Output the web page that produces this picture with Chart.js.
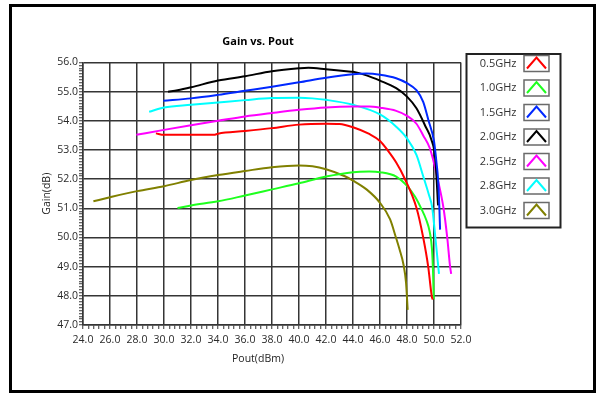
<!DOCTYPE html>
<html>
<head>
<meta charset="utf-8">
<script src="https://cdn.jsdelivr.net/npm/chart.js@4/dist/chart.umd.min.js"></script>
<style>
  html, body { margin: 0; padding: 0; background: #fff; }
  #wrap { width: 602px; height: 396px; }
</style>
</head>
<body>
<div id="wrap"><canvas id="c" width="602" height="396"></canvas></div>
<script>
// Series names (test frequency)
const freqLabels = ['0.5GHz', '1.0GHz', '1.5GHz', '2.0GHz', '2.5GHz', '2.8GHz', '3.0GHz'];
const seriesColors = ['#ff0000', '#1eff1e', '#0028ff', '#000000', '#ff00ff', '#00ffff', '#808000'];

// Output power (dBm) and gain (dB) for each frequency
const pout05 = [29.4, 30, 32, 33.7, 34, 36, 38, 40, 42, 43, 44, 45.2, 46, 46.6, 47.2, 47.8, 48.7, 49.2, 49.57, 49.83, 49.9];
const gain05 = [53.57, 53.52, 53.52, 53.52, 53.56, 53.65, 53.75, 53.87, 53.9, 53.89, 53.78, 53.55, 53.31, 52.97, 52.57, 52.05, 51.02, 50.0, 49.0, 48.0, 47.87];

const pout10 = [31.0, 32, 34, 36, 38, 40, 42, 44, 45.2, 46, 47.2, 48.0, 48.6, 49.05, 49.43, 49.68, 49.85, 49.93, 49.98];
const gain10 = [51.01, 51.1, 51.24, 51.44, 51.65, 51.86, 52.09, 52.24, 52.26, 52.24, 52.09, 51.77, 51.4, 51.0, 50.6, 50.2, 49.6, 48.8, 47.88];

const pout15 = [29.95, 32, 34, 36, 38, 40, 42, 44, 45, 46, 47.2, 48, 48.7, 49.2, 49.6, 50.0, 50.2, 50.3, 50.4, 50.45];
const gain15 = [54.69, 54.77, 54.89, 55.03, 55.17, 55.32, 55.48, 55.6, 55.62, 55.58, 55.46, 55.29, 55.05, 54.65, 54.0, 53.3, 52.5, 52.0, 51.0, 50.27];

const pout20 = [30.3, 31, 32, 34, 36, 38, 40, 40.7, 42, 43.5, 44, 45, 46, 47.2, 48, 48.7, 49.4, 49.8, 50.1, 50.3];
const gain20 = [55.0, 55.05, 55.15, 55.38, 55.53, 55.7, 55.8, 55.82, 55.77, 55.7, 55.68, 55.56, 55.38, 55.12, 54.83, 54.43, 53.78, 53.36, 52.68, 51.1];

const pout25 = [27.95, 30, 32, 34, 36, 38, 40, 42, 44, 45.2, 46, 47.2, 48, 48.7, 49.2, 49.7, 50.25, 50.7, 50.98, 51.18, 51.27];
const gain25 = [53.52, 53.69, 53.85, 54.0, 54.15, 54.27, 54.38, 54.46, 54.49, 54.49, 54.45, 54.34, 54.17, 53.9, 53.5, 53.05, 52.05, 51.02, 50.0, 49.05, 48.75];

const pout28 = [28.9, 30, 32, 34, 36, 38, 40, 41, 42, 44, 46, 47.2, 48, 48.7, 49.2, 49.6, 49.87, 50.1, 50.37];
const gain28 = [54.31, 54.46, 54.55, 54.63, 54.71, 54.78, 54.79, 54.77, 54.72, 54.55, 54.22, 53.8, 53.4, 52.83, 52.1, 51.5, 51.02, 50.0, 48.75];

const pout30 = [24.77, 26, 28, 30, 32, 34, 36, 38, 40, 41, 42, 43.4, 44, 45, 46, 46.75, 47.18, 47.43, 47.75, 47.93, 48.05];
const gain30 = [51.24, 51.38, 51.59, 51.76, 51.97, 52.14, 52.28, 52.41, 52.47, 52.44, 52.34, 52.1, 51.95, 51.65, 51.19, 50.62, 50.0, 49.62, 49.05, 48.44, 47.52];

const poutSets = [pout05, pout10, pout15, pout20, pout25, pout28, pout30];
const gainSets = [gain05, gain10, gain15, gain20, gain25, gain28, gain30];

// Axis ranges and tick spacing
const xMin = 24, xMax = 52, xMajor = 2, xMinor = 0.4;
const yMin = 47, yMax = 56, yMajor = 1, yMinor = 0.1;

const chartTitle = 'Gain vs. Pout';
const xTitle = 'Pout(dBm)';
const yTitle = 'Gain(dB)';

const isMajor = (v, step, base) => {
  const q = (v - base) / step;
  return Math.abs(q - Math.round(q)) < 1e-6;
};

const FONT = "'Open Sans', 'DejaVu Sans', sans-serif";
const GRID = '#353535';

const datasets = freqLabels.map((lab, i) => ({
  label: lab,
  data: poutSets[i].map((p, k) => ({ x: p, y: gainSets[i][k] })),
  borderColor: seriesColors[i],
  backgroundColor: seriesColors[i],
  borderWidth: 2,
  pointRadius: 0,
  fill: false,
  cubicInterpolationMode: 'monotone'
}));

// White page, black outer frame, chart title and x axis title
const framePlugin = {
  id: 'frame',
  beforeDraw(chart) {
    const c = chart.ctx;
    c.save();
    c.fillStyle = '#fff';
    c.fillRect(0, 0, chart.width, chart.height);
    c.restore();
  },
  afterDraw(chart) {
    const c = chart.ctx;
    const a = chart.chartArea;
    c.save();
    c.strokeStyle = '#000';
    c.lineWidth = 3;
    c.strokeRect(10.5, 5.5, 584, 386);

    const midX = a.left + (a.right - a.left) * 0.463;
    c.textAlign = 'center';
    c.textBaseline = 'middle';
    c.fillStyle = '#000';
    c.font = 'bold 11px ' + FONT;
    c.fillText(chartTitle, midX, a.top - 20.5);
    c.fillStyle = '#222';
    c.font = '10.5px ' + FONT;
    c.fillText(xTitle, midX, a.bottom + 34);
    c.restore();
  }
};

// Boxed legend: label on the left, caret icon on the right
const boxLegend = {
  id: 'boxLegend',
  afterDraw(chart) {
    const c = chart.ctx;
    const area = chart.chartArea;
    const left = area.right + 5.5;
    const top = 54;
    const w = 94, rowH = 24.5;
    const n = chart.data.datasets.length;
    const h = n * rowH + 2;
    c.save();
    c.fillStyle = '#fff';
    c.fillRect(left, top, w, h);
    c.strokeStyle = '#222';
    c.lineWidth = 2;
    c.strokeRect(left, top, w, h);
    chart.data.datasets.forEach((ds, i) => {
      const cy = top + 9.5 + i * rowH;
      c.font = '11px ' + FONT;
      c.fillStyle = '#333';
      c.textAlign = 'right';
      c.textBaseline = 'middle';
      c.fillText(ds.label, left + 50, cy);
      const bx = left + 57.5, bw = 25, bh = 16;
      c.fillStyle = '#fff';
      c.fillRect(bx, cy - bh / 2, bw, bh);
      c.strokeStyle = '#6a6a6a';
      c.lineWidth = 1.5;
      c.strokeRect(bx, cy - bh / 2, bw, bh);
      c.strokeStyle = ds.borderColor;
      c.lineWidth = 2;
      c.beginPath();
      c.moveTo(bx + 3, cy + 5);
      c.lineTo(bx + bw / 2, cy - 6);
      c.lineTo(bx + bw - 3, cy + 5);
      c.stroke();
    });
    c.restore();
  }
};

new Chart(document.getElementById('c'), {
  type: 'line',
  data: { datasets },
  plugins: [framePlugin, boxLegend],
  options: {
    responsive: false,
    animation: false,
    events: [],
    layout: { padding: { left: 36, right: 141, top: 62.5, bottom: 19 } },
    plugins: {
      legend: { display: false },
      tooltip: { enabled: false },
      title: { display: false }
    },
    scales: {
      x: {
        type: 'linear',
        min: xMin, max: xMax,
        afterFit: (s) => { s.height = 52; },
        ticks: {
          stepSize: xMinor,
          autoSkip: false,
          maxRotation: 0,
          padding: 5,
          color: '#2a2a2a',
          font: { family: FONT, size: 10.5 },
          callback: (v) => isMajor(v, xMajor, xMin) ? v.toFixed(1) : ''
        },
        grid: {
          color: (ctx) => (ctx.tick && isMajor(ctx.tick.value, xMajor, xMin)) ? GRID : 'rgba(0,0,0,0)',
          tickColor: '#333',
          tickWidth: 1,
          tickLength: 4,
          lineWidth: 1.5
        },
        border: { color: GRID, width: 1.5 }
      },
      y: {
        type: 'linear',
        min: yMin, max: yMax,
        afterFit: (s) => { s.width = 47; },
        ticks: {
          stepSize: yMinor,
          autoSkip: false,
          padding: 1,
          color: '#2a2a2a',
          font: { family: FONT, size: 10.5 },
          callback: (v) => isMajor(v, yMajor, yMin) ? v.toFixed(1) : ''
        },
        grid: {
          color: (ctx) => (ctx.tick && isMajor(ctx.tick.value, yMajor, yMin)) ? GRID : 'rgba(0,0,0,0)',
          tickColor: '#333',
          tickWidth: 1,
          tickLength: 4,
          lineWidth: 1.5
        },
        border: { color: GRID, width: 1.5 },
        title: {
          display: true,
          text: yTitle,
          color: '#222',
          font: { family: FONT, size: 10.5 },
          padding: { top: 4.7, bottom: 0 }
        }
      }
    }
  }
});
</script>
</body>
</html>
